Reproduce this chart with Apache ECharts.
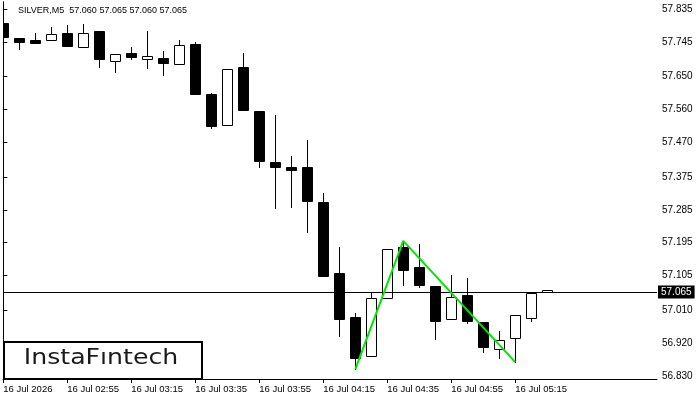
<!DOCTYPE html>
<html>
<head>
<meta charset="utf-8">
<script src="https://cdn.jsdelivr.net/npm/echarts@6/dist/echarts.min.js"></script>
<style>
  html, body { margin: 0; padding: 0; background: #fff; }
  #chart { width: 700px; height: 400px; }
</style>
</head>
<body>
<div id="chart"></div>
<script>
// M5 candles, one per index (02:35 ... 05:25)
const opens  = [57.797, 57.756, 57.750, 57.750, 57.770, 57.730, 57.775, 57.693, 57.715, 57.699,
                57.701, 57.684, 57.739, 57.602, 57.518, 57.676, 57.556, 57.416, 57.402, 57.402,
                57.307, 57.112, 56.991, 56.886, 57.045, 57.184, 57.129, 57.077, 56.987, 57.052,
                56.978, 56.905, 56.933, 56.990, 57.060];
const highs  = [57.797, 57.756, 57.769, 57.785, 57.791, 57.794, 57.775, 57.712, 57.732, 57.775,
                57.720, 57.750, 57.745, 57.605, 57.670, 57.715, 57.556, 57.545, 57.433, 57.476,
                57.331, 57.184, 57.003, 57.058, 57.178, 57.200, 57.192, 57.077, 57.107, 57.098,
                56.978, 56.953, 56.996, 57.057, 57.065];
const lows   = [57.759, 57.725, 57.743, 57.750, 57.735, 57.730, 57.675, 57.663, 57.699, 57.674,
                57.655, 57.684, 57.603, 57.510, 57.518, 57.559, 57.403, 57.291, 57.294, 57.225,
                57.105, 56.940, 56.848, 56.886, 57.045, 57.079, 57.075, 56.932, 56.987, 56.976,
                56.897, 56.880, 56.868, 56.982, 57.060];
const closes = [57.759, 57.744, 57.743, 57.767, 57.735, 57.770, 57.699, 57.712, 57.704, 57.706,
                57.688, 57.736, 57.603, 57.516, 57.670, 57.559, 57.420, 57.403, 57.395, 57.310,
                57.105, 56.987, 56.880, 57.043, 57.178, 57.121, 57.080, 56.982, 57.046, 56.982,
                56.910, 56.928, 56.996, 57.057, 57.065];

const timeLabels = ["16 Jul 2026", "16 Jul 02:55", "16 Jul 03:15", "16 Jul 03:35", "16 Jul 03:55",
                    "16 Jul 04:15", "16 Jul 04:35", "16 Jul 04:55", "16 Jul 05:15"];
const timeTickIdx = [0, 4, 8, 12, 16, 20, 24, 28, 32];
const priceTicks = [56.830, 56.920, 57.010, 57.105, 57.195, 57.285, 57.375,
                    57.470, 57.560, 57.650, 57.745, 57.835];

// double bottom pattern: [candle index, price]
const patternPts = [[22, 56.848], [25, 57.200], [32, 56.868]];
const lastPrice = 57.065;
const header = "SILVER,M5  57.060 57.065 57.060 57.065";

const candles = opens.map((o, i) => [i, o, highs[i], lows[i], closes[i]]);

const FONT = "Liberation Sans";
const yMin = 56.8219, yMax = 57.8542;

function renderCandle(params, api) {
  const i = api.value(0);
  const o = api.value(1), h = api.value(2), l = api.value(3), c = api.value(4);
  const pO = api.coord([i, o]), pC = api.coord([i, c]);
  const pH = api.coord([i, h]), pL = api.coord([i, l]);
  const x = Math.floor(pO[0]) + 0.5;
  const top = Math.round(Math.min(pO[1], pC[1])) + 0.5;
  const bot = Math.round(Math.max(pO[1], pC[1])) + 0.5;
  const up = c >= o;
  return {
    type: "group",
    children: [
      {
        type: "line",
        shape: { x1: x, y1: Math.round(pH[1]), x2: x, y2: Math.round(pL[1]) + 1 },
        style: { stroke: "#000", lineWidth: 1 },
      },
      {
        type: "rect",
        shape: { x: x - 5, y: top, width: 10, height: Math.max(bot - top, 1) },
        style: { fill: up ? "#fff" : "#000", stroke: "#000", lineWidth: 1 },
      },
    ],
  };
}

const chart = echarts.init(document.getElementById("chart"), null, { renderer: "canvas" });

chart.setOption({
  backgroundColor: "#fff",
  animation: false,
  title: {
    text: header,
    left: 18,
    top: 6,
    padding: 0,
    textStyle: { fontFamily: FONT, fontSize: 9, fontWeight: "normal", color: "#000" },
  },
  grid: { left: 3, right: 43, top: 2, bottom: 21 },
  xAxis: {
    type: "value",
    min: -0.02,
    max: 40.86,
    axisLine: { show: true, lineStyle: { color: "#000", width: 1 } },
    axisTick: { show: true, length: 4, lineStyle: { color: "#000" }, customValues: timeTickIdx },
    axisLabel: {
      customValues: timeTickIdx,
      formatter: (v) => timeLabels[timeTickIdx.indexOf(Math.round(v))] || "",
      align: "left",
      margin: 5,
      color: "#000",
      fontFamily: FONT,
      fontSize: 9.5,
    },
    splitLine: { show: false },
  },
  yAxis: [
    {
      type: "value",
      position: "right",
      min: yMin,
      max: yMax,
      axisLine: { show: true, lineStyle: { color: "#000", width: 1 } },
      axisTick: { show: true, length: 4, lineStyle: { color: "#000" }, customValues: priceTicks },
      axisLabel: {
        customValues: priceTicks,
        formatter: (v) => v.toFixed(3),
        margin: 5,
        color: "#000",
        fontFamily: FONT,
        fontSize: 10,
      },
      splitLine: { show: false },
    },
    {
      type: "value",
      position: "left",
      min: yMin,
      max: yMax,
      axisLine: { show: true, onZero: false, lineStyle: { color: "#000", width: 1 } },
      axisTick: { show: false },
      axisLabel: { show: false },
      splitLine: { show: false },
    },
  ],
  series: [
    {
      type: "custom",
      renderItem: renderCandle,
      clip: true,
      encode: { x: 0, y: [1, 2, 3, 4] },
      data: candles,
      silent: true,
      markLine: {
        silent: true,
        symbol: "none",
        lineStyle: { color: "#000", width: 1, type: "solid" },
        label: {
          position: "end",
          distance: 1,
          formatter: lastPrice.toFixed(3),
          backgroundColor: "#000",
          color: "#fff",
          padding: [2, 3, 1, 3],
          fontFamily: FONT,
          fontSize: 10,
        },
        data: [{ yAxis: lastPrice }],
      },
    },
    {
      type: "line",
      data: patternPts,
      symbol: "none",
      silent: true,
      lineStyle: { color: "#00e600", width: 2 },
      z: 5,
    },
  ],
  graphic: [
    {
      type: "rect",
      left: 3,
      top: 341,
      shape: { width: 198, height: 37 },
      style: { fill: "#fff", stroke: "#000", lineWidth: 2 },
      z: 100,
    },
    {
      type: "text",
      x: 101,
      y: 359,
      scaleX: 1.2,
      style: {
        text: "InstaFıntech",
        fontFamily: "DejaVu Sans",
        fontSize: 21,
        fill: "#1a1a1a",
        align: "center",
        verticalAlign: "middle",
      },
      z: 101,
    },
  ],
});
</script>
</body>
</html>
